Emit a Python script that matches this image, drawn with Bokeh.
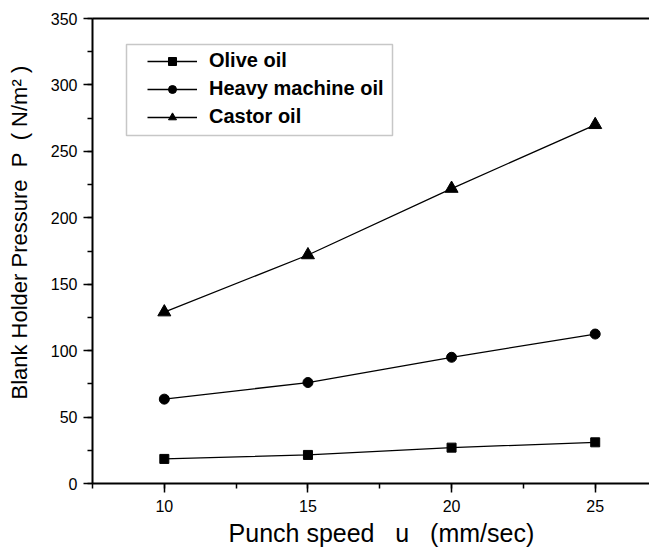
from bokeh.plotting import figure
from bokeh.models import (Range1d, SingleIntervalTicker, LinearAxis, FixedTicker,
                          Legend, LegendItem, BoxAnnotation)
from bokeh.embed import file_html
from bokeh.resources import INLINE

speed = [10, 15, 20, 25]
olive = [18.5, 21.5, 27, 31]
heavy = [63.5, 76, 95, 112.5]
castor = [129, 172, 222, 270]
series_names = ["Olive oil", "Heavy machine oil", "Castor oil"]

FONT = "Liberation Sans"
NB = "\u00a0"

W, H = 649, 550
BL, BT, BB = 92, 18, 67
X0, X1, Y0, Y1 = 7.5, 26.89, 0, 350

p = figure(width=W, height=H, output_backend="svg", toolbar_location=None,
           x_range=Range1d(X0, X1), y_range=Range1d(Y0, Y1),
           min_border_left=BL, min_border_right=0, min_border_top=BT,
           min_border_bottom=BB)
p.outline_line_color = None
p.grid.visible = False
p.background_fill_color = "white"

# legend frame (pixel box converted to data space of the frame)
fw, fh = W - BL, H - BT - BB
def px_x(px):
    return X0 + (px - BL) / fw * (X1 - X0)
def px_y(py):
    return Y0 + (BT + fh - py) / fh * (Y1 - Y0)
box = BoxAnnotation(left=px_x(126), right=px_x(392), top=px_y(44), bottom=px_y(135),
                    fill_color="white", fill_alpha=1, line_color="#444444",
                    line_width=1.5, level="underlay")
p.add_layout(box)

r1l = p.line(speed, olive, line_color="black", line_width=1.3)
r1m = p.scatter(speed, olive, marker="square", size=9, color="black")
r2l = p.line(speed, heavy, line_color="black", line_width=1.3)
r2m = p.scatter(speed, heavy, marker="circle", size=10, color="black")
r3l = p.line(speed, castor, line_color="black", line_width=1.3)
r3m = p.scatter(speed, castor, marker="triangle", size=13, color="black")

for ax in (p.xaxis[0], p.yaxis[0]):
    ax.axis_line_width = 2
    ax.major_tick_line_width = 1.5
    ax.minor_tick_line_width = 1.5
    ax.major_tick_out = 9
    ax.major_tick_in = 0
    ax.minor_tick_out = 5
    ax.minor_tick_in = 0
    ax.major_label_text_font = FONT
    ax.major_label_text_font_size = "16px"
    ax.major_label_text_color = "black"
    ax.axis_label_text_font = FONT
    ax.axis_label_text_font_style = "normal"
    ax.axis_label_text_color = "black"

p.xaxis[0].ticker = SingleIntervalTicker(interval=5, num_minor_ticks=2)
p.yaxis[0].ticker = SingleIntervalTicker(interval=50, num_minor_ticks=2)
p.xaxis[0].axis_label = NB * 3 + "Punch speed" + NB * 3 + "u" + NB * 3 + "(mm/sec)"
p.xaxis[0].axis_label_text_font_size = "25px"
p.xaxis[0].major_label_standoff = 7
p.xaxis[0].axis_label_standoff = 4
p.yaxis[0].axis_label = (NB * 6 + "Blank Holder Pressure" + NB * 2 + "P" + NB * 2
                         + "(" + NB + "N/m\u00b2" + NB + ")")
p.yaxis[0].axis_label_text_font_size = "22px"
p.yaxis[0].major_label_standoff = 6
p.yaxis[0].axis_label_standoff = 16

top = LinearAxis(ticker=FixedTicker(ticks=[]), axis_line_width=2,
                 major_label_text_font_size="0px",
                 major_tick_line_color=None, minor_tick_line_color=None)
p.add_layout(top, "above")

legend = Legend(items=[
    LegendItem(label=series_names[0], renderers=[r1l, r1m]),
    LegendItem(label=series_names[1], renderers=[r2l, r2m]),
    LegendItem(label=series_names[2], renderers=[r3l, r3m]),
], location=(55, 355))
legend.label_text_font = FONT
legend.label_text_font_style = "bold"
legend.label_text_font_size = "20px"
legend.label_text_color = "black"
legend.glyph_width = 50
legend.glyph_height = 20
legend.label_height = 20
legend.label_standoff = 12
legend.spacing = 5
legend.padding = 0
legend.margin = 0
legend.border_line_color = None
legend.background_fill_alpha = 0
p.add_layout(legend, "center")

open("out.html", "w").write(file_html(p, INLINE))
